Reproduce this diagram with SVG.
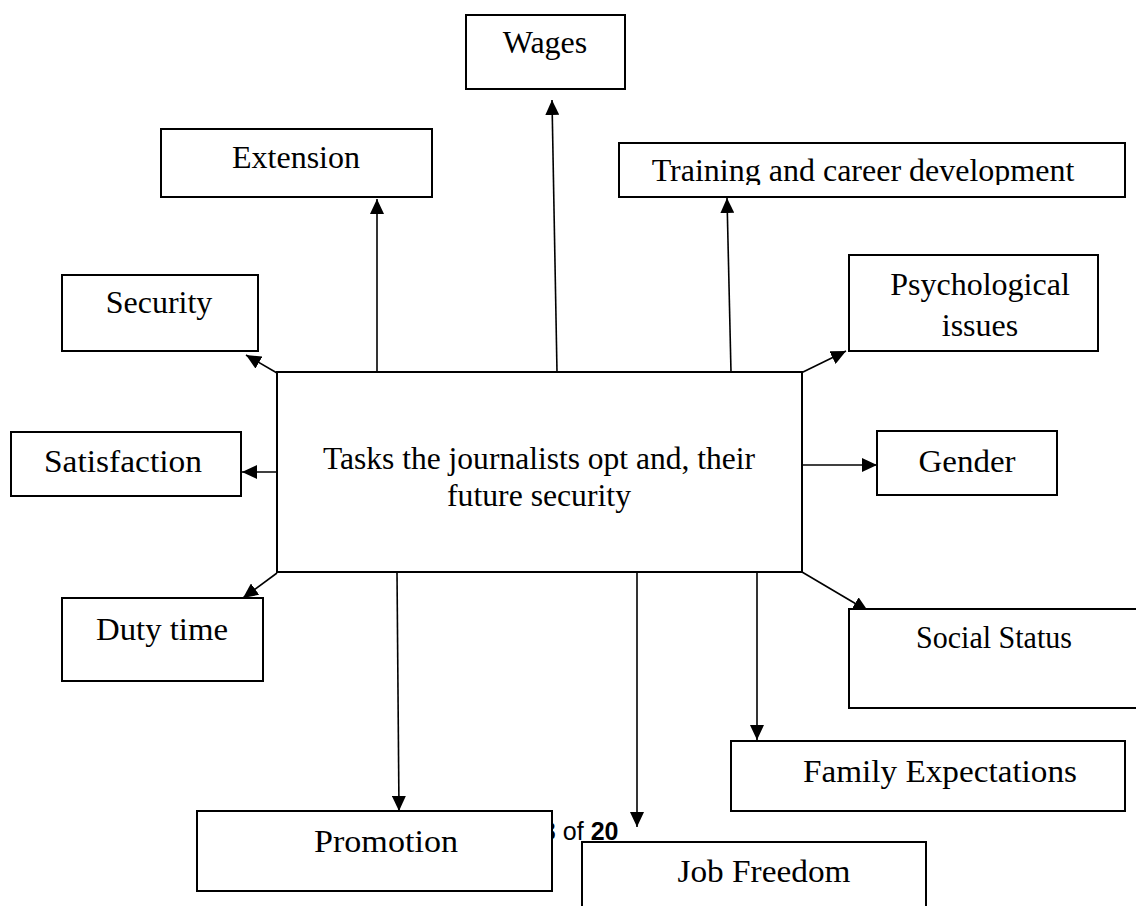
<svg xmlns="http://www.w3.org/2000/svg" width="1136" height="906" viewBox="0 0 1136 906">
<style>
.box{fill:#fff;stroke:#000;stroke-width:2}
.con{fill:none;stroke:#000;stroke-width:1.6;marker-end:url(#ah)}
.tnr{font-family:"Liberation Serif","Times New Roman",serif;font-size:32px;fill:#000;text-anchor:middle}
.cam{font-family:"Liberation Serif","Times New Roman",serif;font-size:31px;fill:#000;text-anchor:middle}
.pg{font-family:"Liberation Sans",Arial,sans-serif;font-size:25px;fill:#000}
</style>
<defs>
<marker id="ah" viewBox="0 0 15 14" refX="15" refY="7" markerWidth="15" markerHeight="14" markerUnits="userSpaceOnUse" orient="auto">
<path d="M0,0 L15,7 L0,14 z" fill="#000"/>
</marker>
<clipPath id="trclip"><rect x="619" y="143" width="506" height="42"/></clipPath>
</defs>
<rect width="1136" height="906" fill="#fff"/>
<text class="pg" x="542" y="840">8 of <tspan font-weight="bold">20</tspan></text>
<g id="connectors">
<line class="con" x1="377" y1="372" x2="377" y2="199"/>
<line class="con" x1="557" y1="372" x2="552" y2="100"/>
<line class="con" x1="731" y1="372" x2="727" y2="198"/>
<line class="con" x1="801" y1="373" x2="846" y2="351"/>
<line class="con" x1="277" y1="373" x2="246" y2="355"/>
<line class="con" x1="277" y1="472" x2="242" y2="472"/>
<line class="con" x1="802" y1="465" x2="877" y2="465"/>
<line class="con" x1="277" y1="573" x2="243" y2="598"/>
<line class="con" x1="397" y1="572" x2="399" y2="811"/>
<line class="con" x1="637" y1="572" x2="637" y2="827"/>
<line class="con" x1="757" y1="572" x2="757" y2="740"/>
<line class="con" x1="802" y1="572" x2="868" y2="611"/>
</g>
<g id="center">
<rect class="box" x="277" y="372" width="525" height="200"/>
<text class="cam" font-size="27" x="539" y="469" textLength="432" lengthAdjust="spacingAndGlyphs">Tasks the journalists opt and, their</text>
<text class="cam" font-size="27" x="539" y="506" textLength="184" lengthAdjust="spacingAndGlyphs">future security</text>
</g>
<g id="wages">
<rect class="box" x="466" y="15" width="159" height="74"/>
<text class="tnr" x="545" y="53">Wages</text>
</g>
<g id="extension">
<rect class="box" x="161" y="129" width="271" height="68"/>
<text class="tnr" x="296" y="168">Extension</text>
</g>
<g id="training">
<rect class="box" x="619" y="143" width="506" height="54"/>
<text class="tnr" x="863" y="181" clip-path="url(#trclip)">Training and career development</text>
</g>
<g id="psychological">
<rect class="box" x="849" y="255" width="249" height="96"/>
<text class="tnr" x="980" y="295">Psychological</text>
<text class="tnr" x="980" y="336">issues</text>
</g>
<g id="security">
<rect class="box" x="62" y="275" width="196" height="76"/>
<text class="tnr" x="159" y="313">Security</text>
</g>
<g id="satisfaction">
<rect class="box" x="11" y="432" width="230" height="64"/>
<text class="cam" x="123" y="472" textLength="158" lengthAdjust="spacingAndGlyphs">Satisfaction</text>
</g>
<g id="gender">
<rect class="box" x="877" y="431" width="180" height="64"/>
<text class="cam" x="967" y="472" textLength="97" lengthAdjust="spacingAndGlyphs">Gender</text>
</g>
<g id="duty-time">
<rect class="box" x="62" y="598" width="201" height="83"/>
<text class="cam" x="162" y="640" textLength="132" lengthAdjust="spacingAndGlyphs">Duty time</text>
</g>
<g id="social-status">
<rect class="box" x="849" y="609" width="300" height="99"/>
<text class="cam" font-size="28" x="994" y="648" textLength="156" lengthAdjust="spacingAndGlyphs">Social Status</text>
</g>
<g id="family-expectations">
<rect class="box" x="731" y="741" width="394" height="70"/>
<text class="cam" x="940" y="782" textLength="274" lengthAdjust="spacingAndGlyphs">Family Expectations</text>
</g>
<g id="promotion">
<rect class="box" x="197" y="811" width="355" height="80"/>
<text class="cam" x="386" y="852" textLength="144" lengthAdjust="spacingAndGlyphs">Promotion</text>
</g>
<g id="job-freedom">
<rect class="box" x="582" y="842" width="344" height="90"/>
<text class="cam" x="764" y="882" textLength="173" lengthAdjust="spacingAndGlyphs">Job Freedom</text>
</g>
</svg>
